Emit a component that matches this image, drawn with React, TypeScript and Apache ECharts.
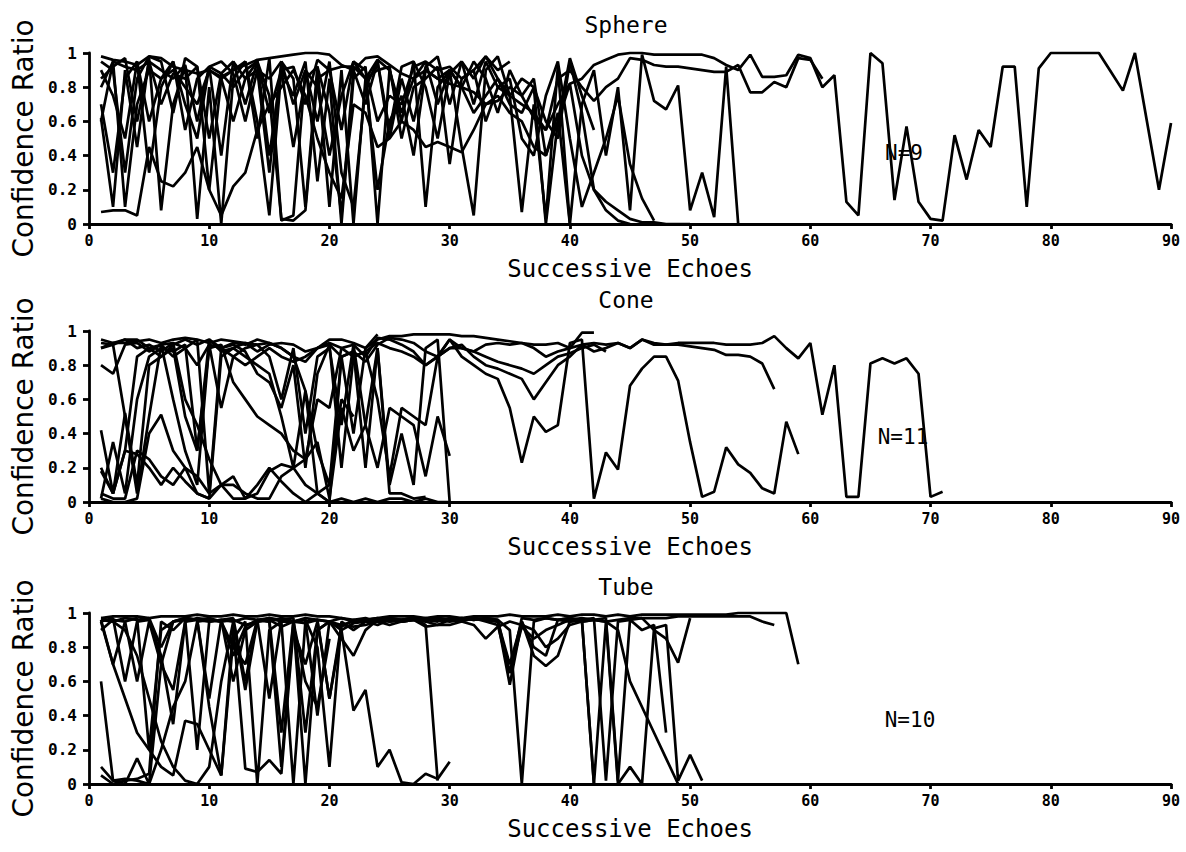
import React, { useEffect, useRef } from "react";
import * as echarts from "echarts";

// ---------- data (value at successive echoes 1, 2, 3, ...) ----------
const panelTitles = ["Sphere", "Cone", "Tube"];
const panelCounts = ["N=9", "N=11", "N=10"];
const xTicks = [0, 10, 20, 30, 40, 50, 60, 70, 80, 90];
const yTicks = [0, 0.2, 0.4, 0.6, 0.8, 1];

const sphere1 = [0.98, 0.96, 0.95, 0.93, 0.98, 0.97, 0.92, 0.9, 0.88, 0.9, 0.86, 0.9, 0.93, 0.96, 0.97, 0.98, 0.99, 1.0, 1.0, 0.99, 0.93, 0.9, 0.97, 0.98, 0.93, 0.88, 0.85, 0.9, 0.85, 0.82, 0.8, 0.77, 0.7, 0.72, 0.8, 0.75, 0.62, 0.55, 0.7, 0.82, 0.85, 0.93, 0.96, 0.99, 1.0, 1.0, 0.99, 0.99, 0.99, 0.99, 0.99, 0.97, 0.93, 0.9, 0.99, 0.86, 0.86, 0.87, 0.99, 0.97, 0.8, 0.87, 0.13, 0.05, 1.0, 0.94, 0.14, 0.57, 0.13, 0.03, 0.02, 0.52, 0.26, 0.55, 0.45, 0.92, 0.92, 0.1, 0.91, 1.0, 1.0, 1.0, 1.0, 1.0, 0.89, 0.78, 1.0, 0.6, 0.2, 0.59];
const sphere2 = [0.85, 0.92, 0.97, 0.6, 0.95, 0.9, 0.85, 0.93, 0.6, 0.92, 0.88, 0.95, 0.7, 0.95, 0.4, 0.9, 0.92, 0.7, 0.96, 0.9, 0.92, 0.92, 0.85, 0.96, 0.9, 0.65, 0.85, 0.95, 0.9, 0.92, 0.85, 0.9, 0.98, 0.85, 0.75, 0.7, 0.65, 0.55, 0.85, 0.9, 0.8, 0.72, 0.8, 0.85, 0.97, 0.96, 0.93, 0.92, 0.92, 0.91, 0.9, 0.89, 0.89, 0.93, 0.77, 0.77, 0.83, 0.8, 0.97, 0.96, 0.85];
const sphere3 = [0.62, 0.1, 0.9, 0.45, 0.97, 0.08, 0.7, 0.92, 0.03, 0.8, 0.0, 0.85, 0.95, 0.6, 0.05, 0.9, 0.75, 0.95, 0.25, 0.85, 0.0, 0.85, 0.92, 0.0, 0.9, 0.6, 0.95, 0.1, 0.8, 0.9, 0.45, 0.05, 0.9, 0.98, 0.75, 0.07, 0.7, 0.03, 0.92, 0.0, 0.7, 0.9, 0.4, 0.8, 0.08, 0.99, 0.72, 0.67, 0.81, 0.08, 0.3, 0.04, 0.92, 0.0];
const sphere4 = [0.07, 0.08, 0.08, 0.05, 0.45, 0.25, 0.22, 0.3, 0.45, 0.2, 0.05, 0.22, 0.3, 0.55, 0.7, 0.8, 0.9, 0.75, 0.5, 0.3, 0.15, 0.7, 0.65, 0.45, 0.5, 0.6, 0.55, 0.45, 0.48, 0.45, 0.42, 0.55, 0.7, 0.75, 0.65, 0.6, 0.45, 0.4, 0.6, 0.82, 0.4, 0.2, 0.13, 0.08, 0.03, 0.01, 0.01, 0.0, 0.0, 0.0];
const sphere5 = [0.95, 0.9, 0.3, 0.85, 0.98, 0.95, 0.65, 0.97, 0.92, 0.2, 0.85, 0.9, 0.95, 0.5, 0.97, 0.02, 0.05, 0.9, 0.6, 0.95, 0.3, 0.1, 0.8, 0.95, 0.5, 0.85, 0.6, 0.92, 0.98, 0.7, 0.95, 0.85, 0.98, 0.9, 0.95];
const sphere6 = [0.9, 0.75, 0.5, 0.95, 0.3, 0.8, 0.95, 0.55, 0.85, 0.92, 0.4, 0.95, 0.85, 0.9, 0.3, 0.95, 0.85, 0.1, 0.92, 0.65, 0.05, 0.9, 0.7, 0.95, 0.55, 0.92, 0.95, 0.8, 0.5, 0.88, 0.95, 0.7, 0.95, 0.8, 0.85, 0.5, 0.4, 0.75, 0.95, 0.5, 0.1, 0.3, 0.5, 0.75, 0.35, 0.15, 0.02];
const sphere7 = [0.8, 0.95, 0.92, 0.9, 0.95, 0.7, 0.88, 0.85, 0.92, 0.5, 0.88, 0.8, 0.9, 0.95, 0.65, 0.9, 0.45, 0.85, 0.92, 0.1, 0.9, 0.0, 0.85, 0.9, 0.92, 0.5, 0.8, 0.85, 0.92, 0.35, 0.85, 0.9, 0.6, 0.8, 0.75, 0.85, 0.8, 0.6, 0.5, 0.95, 0.65, 0.2, 0.08, 0.02, 0.0];
const sphere8 = [0.7, 0.3, 0.85, 0.95, 0.6, 0.85, 0.9, 0.8, 0.7, 0.9, 0.85, 0.6, 0.85, 0.95, 0.75, 0.03, 0.02, 0.08, 0.85, 0.9, 0.55, 0.95, 0.9, 0.6, 0.75, 0.7, 0.92, 0.95, 0.7, 0.9, 0.8, 0.65, 0.75, 0.85, 0.7, 0.65, 0.8, 0.0, 0.6, 0.97, 0.75, 0.55];
const sphere9 = [0.6, 0.95, 0.1, 0.7, 0.9, 0.85, 0.95, 0.7, 0.5, 0.92, 0.95, 0.88, 0.6, 0.9, 0.85, 0.95, 0.7, 0.9, 0.8, 0.4, 0.75, 0.95, 0.85, 0.2, 0.6, 0.75, 0.4, 0.9, 0.85, 0.9, 0.8, 0.95, 0.85, 0.65, 0.9, 0.75, 0.85, 0.4, 0.65, 0.0];

const cone1 = [0.9, 0.93, 0.93, 0.94, 0.95, 0.93, 0.95, 0.96, 0.95, 0.93, 0.95, 0.94, 0.93, 0.92, 0.93, 0.9, 0.85, 0.82, 0.9, 0.95, 0.95, 0.93, 0.9, 0.95, 0.97, 0.97, 0.98, 0.98, 0.98, 0.98, 0.97, 0.97, 0.96, 0.95, 0.94, 0.93, 0.92, 0.92, 0.93, 0.9, 0.92, 0.93, 0.92, 0.93, 0.9, 0.95, 0.93, 0.92, 0.93, 0.93, 0.93, 0.93, 0.92, 0.92, 0.92, 0.93, 0.97, 0.9, 0.84, 0.93, 0.51, 0.8, 0.03, 0.03, 0.81, 0.84, 0.81, 0.84, 0.75, 0.03, 0.06];
const cone2 = [0.93, 0.92, 0.95, 0.95, 0.9, 0.85, 0.92, 0.95, 0.92, 0.95, 0.88, 0.9, 0.93, 0.88, 0.92, 0.93, 0.92, 0.88, 0.9, 0.92, 0.85, 0.88, 0.82, 0.92, 0.96, 0.95, 0.93, 0.88, 0.85, 0.9, 0.92, 0.85, 0.8, 0.78, 0.75, 0.72, 0.6, 0.7, 0.8, 0.85, 0.92, 0.88, 0.9, 0.93, 0.9, 0.95, 0.92, 0.92, 0.92, 0.91, 0.9, 0.89, 0.86, 0.86, 0.85, 0.81, 0.66];
const cone3 = [0.2, 0.05, 0.3, 0.85, 0.9, 0.92, 0.6, 0.3, 0.1, 0.92, 0.55, 0.85, 0.9, 0.92, 0.85, 0.6, 0.9, 0.4, 0.85, 0.9, 0.45, 0.92, 0.85, 0.96, 0.95, 0.92, 0.88, 0.8, 0.85, 0.95, 0.85, 0.8, 0.75, 0.72, 0.55, 0.23, 0.5, 0.41, 0.45, 0.93, 0.95, 0.02, 0.29, 0.19, 0.68, 0.78, 0.85, 0.85, 0.71, 0.35, 0.03, 0.06, 0.32, 0.22, 0.17, 0.08, 0.05, 0.47, 0.28];
const cone4 = [0.8, 0.75, 0.92, 0.93, 0.88, 0.92, 0.85, 0.9, 0.8, 0.92, 0.9, 0.85, 0.8, 0.85, 0.9, 0.85, 0.82, 0.85, 0.9, 0.93, 0.9, 0.85, 0.88, 0.93, 0.9, 0.88, 0.85, 0.8, 0.85, 0.9, 0.9, 0.88, 0.92, 0.93, 0.92, 0.93, 0.9, 0.85, 0.88, 0.9, 0.99, 0.99];
const cone5 = [0.42, 0.05, 0.52, 0.1, 0.8, 0.85, 0.9, 0.5, 0.3, 0.9, 0.92, 0.7, 0.6, 0.5, 0.45, 0.4, 0.3, 0.25, 0.6, 0.55, 0.9, 0.92, 0.45, 0.2, 0.55, 0.5, 0.45, 0.15, 0.5, 0.27];
const cone6 = [0.05, 0.02, 0.02, 0.3, 0.25, 0.15, 0.1, 0.2, 0.15, 0.05, 0.1, 0.1, 0.05, 0.02, 0.02, 0.15, 0.2, 0.25, 0.35, 0.02, 0.55, 0.3, 0.45, 0.9, 0.1, 0.4, 0.1, 0.9, 0.95, 0.0];
const cone7 = [0.95, 0.93, 0.95, 0.9, 0.92, 0.88, 0.93, 0.6, 0.45, 0.25, 0.1, 0.02, 0.02, 0.05, 0.18, 0.22, 0.2, 0.1, 0.05, 0.0, 0.02, 0.0, 0.02, 0.0, 0.02, 0.02, 0.0, 0.02, 0.0, 0.0];
const cone8 = [0.02, 0.35, 0.05, 0.6, 0.85, 0.9, 0.88, 0.92, 0.3, 0.95, 0.9, 0.92, 0.88, 0.75, 0.7, 0.55, 0.8, 0.2, 0.75, 0.92, 0.2, 0.85, 0.88, 0.6, 0.15, 0.55, 0.5, 0.45, 0.85, 0.95, 0.9, 0.88, 0.85, 0.82, 0.8, 0.78, 0.75, 0.8, 0.85, 0.87, 0.9, 0.92, 0.88];
const cone9 = [0.9, 0.92, 0.5, 0.05, 0.5, 0.92, 0.93, 0.9, 0.95, 0.05, 0.9, 0.93, 0.92, 0.95, 0.93, 0.9, 0.85, 0.65, 0.3, 0.1, 0.85, 0.4, 0.9, 0.98];
const cone10 = [0.18, 0.05, 0.3, 0.28, 0.2, 0.1, 0.2, 0.12, 0.05, 0.02, 0.1, 0.15, 0.02, 0.1, 0.2, 0.12, 0.05, 0.0, 0.05, 0.1, 0.6, 0.5];
const cone11 = [0.02, 0.0, 0.0, 0.02, 0.4, 0.51, 0.3, 0.2, 0.05, 0.02, 0.85, 0.9, 0.85, 0.8, 0.75, 0.5, 0.2, 0.65, 0.05, 0.0, 0.85, 0.88, 0.2, 0.9, 0.05, 0.05, 0.02, 0.03];

const tube1 = [0.97, 0.98, 0.98, 0.98, 0.97, 0.98, 0.98, 0.98, 0.99, 0.98, 0.98, 0.99, 0.98, 0.98, 0.99, 0.98, 0.98, 0.99, 0.98, 0.98, 0.97, 0.95, 0.96, 0.97, 0.98, 0.98, 0.98, 0.97, 0.98, 0.98, 0.97, 0.98, 0.98, 0.98, 0.99, 0.98, 0.98, 0.98, 0.99, 0.98, 0.99, 0.99, 0.98, 0.99, 0.98, 0.99, 0.99, 0.99, 0.99, 0.99, 0.99, 0.99, 0.99, 1.0, 1.0, 1.0, 1.0, 1.0, 0.7];
const tube2 = [0.96, 0.95, 0.97, 0.96, 0.97, 0.8, 0.95, 0.97, 0.96, 0.97, 0.95, 0.96, 0.93, 0.95, 0.96, 0.92, 0.95, 0.94, 0.96, 0.95, 0.93, 0.92, 0.93, 0.95, 0.93, 0.95, 0.96, 0.92, 0.93, 0.93, 0.95, 0.93, 0.85, 0.92, 0.95, 0.93, 0.9, 0.8, 0.85, 0.93, 0.95, 0.96, 0.95, 0.96, 0.97, 0.97, 0.97, 0.97, 0.98, 0.98, 0.98, 0.98, 0.98, 0.98, 0.98, 0.95, 0.93];
const tube3 = [0.95, 0.7, 0.95, 0.97, 0.2, 0.9, 0.95, 0.97, 0.96, 0.45, 0.05, 0.85, 0.95, 0.0, 0.9, 0.95, 0.95, 0.0, 0.9, 0.95, 0.92, 0.96, 0.97, 0.95, 0.96, 0.95, 0.96, 0.95, 0.93, 0.96, 0.97, 0.96, 0.97, 0.96, 0.9, 0.0, 0.95, 0.97, 0.96, 0.97, 0.96, 0.0, 0.95, 0.0, 0.1, 0.0, 0.91, 0.93, 0.02, 0.17, 0.02];
const tube4 = [0.9, 0.96, 0.95, 0.6, 0.95, 0.7, 0.95, 0.96, 0.2, 0.95, 0.96, 0.6, 0.9, 0.95, 0.96, 0.3, 0.95, 0.96, 0.4, 0.95, 0.9, 0.94, 0.95, 0.93, 0.96, 0.95, 0.96, 0.97, 0.96, 0.95, 0.96, 0.97, 0.96, 0.95, 0.58, 0.95, 0.75, 0.69, 0.75, 0.95, 0.96, 0.97, 0.02, 0.95, 0.96, 0.97, 0.9, 0.85, 0.71, 0.97];
const tube5 = [0.05, 0.0, 0.02, 0.03, 0.06, 0.95, 0.9, 0.97, 0.96, 0.95, 0.96, 0.95, 0.55, 0.95, 0.97, 0.96, 0.95, 0.97, 0.96, 0.5, 0.93, 0.95, 0.96, 0.97, 0.95, 0.96, 0.97, 0.96, 0.95, 0.97, 0.96, 0.97, 0.95, 0.93, 0.65, 0.92, 0.85, 0.9, 0.93, 0.96, 0.97, 0.96, 0.95, 0.9, 0.6, 0.45, 0.3, 0.15, 0.0];
const tube6 = [0.96, 0.7, 0.5, 0.3, 0.2, 0.1, 0.05, 0.37, 0.35, 0.2, 0.05, 0.92, 0.09, 0.07, 0.14, 0.06, 0.9, 0.7, 0.95, 0.5, 0.9, 0.43, 0.55, 0.1, 0.2, 0.01, 0.0, 0.06, 0.03, 0.13];
const tube7 = [0.6, 0.02, 0.0, 0.15, 0.0, 0.7, 0.55, 0.95, 0.96, 0.5, 0.96, 0.97, 0.6, 0.96, 0.95, 0.1, 0.95, 0.96, 0.8, 0.1, 0.95, 0.9, 0.95, 0.96, 0.95, 0.96, 0.97, 0.93, 0.02];
const tube8 = [0.95, 0.97, 0.6, 0.95, 0.96, 0.75, 0.35, 0.95, 0.97, 0.96, 0.95, 0.75, 0.92, 0.96, 0.97, 0.95, 0.0, 0.95, 0.96, 0.95, 0.97, 0.96, 0.95, 0.96, 0.97, 0.96, 0.97, 0.96, 0.97, 0.96, 0.95, 0.97, 0.96, 0.95, 0.7, 0.95, 0.8, 0.75, 0.96, 0.97, 0.95, 0.96, 0.97, 0.02, 0.96, 0.9, 0.93, 0.3];
const tube9 = [0.1, 0.02, 0.03, 0.02, 0.0, 0.2, 0.45, 0.6, 0.95, 0.96, 0.95, 0.8, 0.7, 0.96, 0.95, 0.97, 0.95, 0.6, 0.45, 0.85];
const tube10 = [0.97, 0.95, 0.9, 0.75, 0.5, 0.25, 0.1, 0.02, 0.0, 0.1, 0.6, 0.95, 0.97, 0.96, 0.5, 0.96, 0.97, 0.3, 0.9, 0.95, 0.85, 0.75, 0.9, 0.96, 0.97, 0.96, 0.97, 0.96, 0.97, 0.96, 0.97, 0.96, 0.97, 0.96, 0.65, 0.97, 0.96, 0.97, 0.96, 0.95, 0.96, 0.0];

const sphereSeries = [sphere1, sphere2, sphere3, sphere4, sphere5, sphere6, sphere7, sphere8, sphere9];
const coneSeries = [cone1, cone2, cone3, cone4, cone5, cone6, cone7, cone8, cone9, cone10, cone11];
const tubeSeries = [tube1, tube2, tube3, tube4, tube5, tube6, tube7, tube8, tube9, tube10];
const panels = [sphereSeries, coneSeries, tubeSeries];

// ---------- layout ----------
const W = 1186;
const H = 852;
const gridLeft = 89;
const gridRight = 15;
const gridTops = [53, 331, 613];
const gridHeight = 171;
const titleYs = [25, 300, 587];
const countPos = [
  [904, 153],
  [903, 437],
  [910, 720],
];

const INK = "#000000";
const MONO = "'DejaVu Sans Mono', 'Liberation Mono', monospace";

function buildOption() {
  const grid = gridTops.map((top) => ({
    left: gridLeft,
    right: gridRight,
    top,
    height: gridHeight,
    containLabel: false,
  }));
  const xAxis = gridTops.map((_, i) => ({
    type: "value",
    gridIndex: i,
    min: xTicks[0],
    max: xTicks[xTicks.length - 1],
    interval: xTicks[1] - xTicks[0],
    name: "Successive Echoes",
    nameLocation: "middle",
    nameGap: 33,
    nameTextStyle: { color: INK, fontFamily: MONO, fontSize: 24 },
    axisLine: { show: true, lineStyle: { color: INK, width: 2.8 } },
    axisTick: { show: true, length: 5, lineStyle: { color: INK, width: 2.8 } },
    axisLabel: {
      color: INK,
      fontFamily: MONO,
      fontWeight: "bold",
      fontSize: 15,
      margin: 9,
    },
    splitLine: { show: false },
  }));
  const yAxis = gridTops.map((_, i) => ({
    type: "value",
    gridIndex: i,
    min: yTicks[0],
    max: yTicks[yTicks.length - 1],
    interval: yTicks[1] - yTicks[0],
    name: "Confidence Ratio",
    nameLocation: "middle",
    nameGap: 51,
    nameTextStyle: { color: INK, fontFamily: "'DejaVu Sans', sans-serif", fontSize: 28 },
    axisLine: { show: true, lineStyle: { color: INK, width: 2.8 } },
    axisTick: { show: true, length: 6, lineStyle: { color: INK, width: 2.8 } },
    axisLabel: {
      color: INK,
      fontFamily: MONO,
      fontWeight: "bold",
      fontSize: 16,
      margin: 12,
    },
    splitLine: { show: false },
  }));
  const series: any[] = [];
  panels.forEach((lines, p) => {
    lines.forEach((vals, k) => {
      series.push({
        type: "line",
        name: `${panelTitles[p]} ${k + 1}`,
        xAxisIndex: p,
        yAxisIndex: p,
        data: vals.map((v, j) => [j + 1, v]),
        showSymbol: false,
        symbol: "none",
        lineStyle: { color: INK, width: 2.7 },
        clip: false,
      });
    });
  });
  const graphic: any[] = [];
  panelTitles.forEach((t, i) => {
    graphic.push({
      type: "text",
      x: 626,
      y: titleYs[i],
      style: {
        text: t,
        fill: INK,
        font: `23px ${MONO}`,
        align: "center",
        verticalAlign: "middle",
      },
    });
    graphic.push({
      type: "text",
      x: countPos[i][0],
      y: countPos[i][1],
      style: {
        text: panelCounts[i],
        fill: INK,
        font: `21px ${MONO}`,
        align: "center",
        verticalAlign: "middle",
      },
    });
  });
  return {
    animation: false,
    backgroundColor: "#ffffff",
    grid,
    xAxis,
    yAxis,
    series,
    graphic,
  };
}

export default function App() {
  const ref = useRef<HTMLDivElement>(null);
  useEffect(() => {
    if (!ref.current) return;
    const chart = echarts.init(ref.current, undefined, { renderer: "svg" });
    chart.setOption(buildOption() as any);
    return () => chart.dispose();
  }, []);
  return (
    <div
      ref={ref}
      style={{ position: "absolute", left: 0, top: 0, width: W, height: H, background: "#fff" }}
    />
  );
}
